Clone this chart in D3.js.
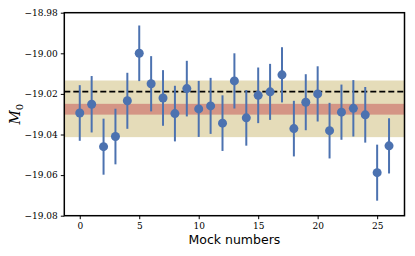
<!DOCTYPE html>
<html>
<head>
<meta charset="utf-8">
<script src="https://cdn.jsdelivr.net/npm/d3@7"></script>
<style>
  body { margin: 0; background: #fff; }
  svg { display: block; }
  .tick text { font-family: "DejaVu Serif", serif; font-size: 9px; fill: #000; }
</style>
</head>
<body>
<div id="graphDiv"></div>
<script>
// mock index and measured M0 with its error bar
const mocks = d3.range(27);
const m0 = [-19.0294, -19.0251, -19.0460, -19.0410, -19.0234, -19.0000, -19.0150, -19.0220, -19.0297,
            -19.0174, -19.0274, -19.0259, -19.0344, -19.0136, -19.0318, -19.0207, -19.0190, -19.0106,
            -19.0371, -19.0241, -19.0200, -19.0381, -19.0290, -19.0271, -19.0303, -19.0588, -19.0456];
const m0Err = [0.0137, 0.0139, 0.0138, 0.0137, 0.0138, 0.0137, 0.0136, 0.0137, 0.0137,
               0.0137, 0.0138, 0.0138, 0.0137, 0.0136, 0.0137, 0.0137, 0.0138, 0.0136,
               0.0137, 0.0138, 0.0136, 0.0137, 0.0136, 0.0139, 0.0137, 0.0138, 0.0136];

// reference value (dashed) and the two bands
const refLine = -19.0189;
const innerBand = [-19.0302, -19.0249];
const outerBand = [-19.0413, -19.0134];

const yTicks = [-19.08, -19.06, -19.04, -19.02, -19.00, -18.98];
const xTicks = [0, 5, 10, 15, 20, 25];

const W = 415, H = 256;
const margin = {top: 12.7, right: 10.5, bottom: 40.3, left: 64.3};
const width = W - margin.left - margin.right;
const height = H - margin.top - margin.bottom;

const svg = d3.select("#graphDiv").append("svg")
    .attr("width", W)
    .attr("height", H);
const g = svg.append("g")
    .attr("transform", `translate(${margin.left},${margin.top})`);

const x = d3.scaleLinear().domain([-1.3, 27.3]).range([0, width]);
const y = d3.scaleLinear().domain([-19.08, -18.98]).range([height, 0]);

//bands
g.append("rect")
    .attr("x", 0).attr("width", width)
    .attr("y", y(outerBand[1]))
    .attr("height", y(outerBand[0]) - y(outerBand[1]))
    .attr("fill", "#ccb974").attr("fill-opacity", 0.5);
g.append("rect")
    .attr("x", 0).attr("width", width)
    .attr("y", y(innerBand[1]))
    .attr("height", y(innerBand[0]) - y(innerBand[1]))
    .attr("fill", "#c44e52").attr("fill-opacity", 0.5);

//dashed reference
g.append("line")
    .attr("x1", 0).attr("x2", width)
    .attr("y1", y(refLine)).attr("y2", y(refLine))
    .attr("stroke", "#000").attr("stroke-width", 1.8)
    .attr("stroke-dasharray", "6,3");

//error bars
g.append("g").selectAll("line")
    .data(mocks)
    .join("line")
    .attr("x1", i => x(i)).attr("x2", i => x(i))
    .attr("y1", i => y(m0[i] - m0Err[i]))
    .attr("y2", i => y(m0[i] + m0Err[i]))
    .attr("stroke", "#4c72b0").attr("stroke-width", 2);

//points
g.append("g").selectAll("circle")
    .data(mocks)
    .join("circle")
    .attr("cx", i => x(i))
    .attr("cy", i => y(m0[i]))
    .attr("r", 4.5)
    .attr("fill", "#4c72b0");

//axes
const xAxis = g.append("g")
    .attr("transform", `translate(0,${height})`)
    .call(d3.axisBottom(x).tickValues(xTicks).tickFormat(d3.format("d")).tickSize(3.5).tickPadding(3));
const yAxis = g.append("g")
    .call(d3.axisLeft(y).tickValues(yTicks).tickFormat(d3.format(".2f")).tickSize(3.5).tickPadding(3));
[xAxis, yAxis].forEach(a => {
    a.select(".domain").remove();
    a.selectAll(".tick line").attr("stroke", "#000").attr("stroke-width", 1);
});

//frame
g.append("rect")
    .attr("width", width).attr("height", height)
    .attr("fill", "none").attr("stroke", "#000").attr("stroke-width", 1.5);

//labels
svg.append("text")
    .attr("x", margin.left + width / 2)
    .attr("y", 244)
    .attr("text-anchor", "middle")
    .style("font-family", "DejaVu Sans, sans-serif")
    .style("font-size", "12.5px")
    .text("Mock numbers");

const yl = svg.append("text")
    .attr("transform", `translate(20,${margin.top + height / 2}) rotate(-90)`)
    .attr("text-anchor", "middle")
    .style("font-family", "DejaVu Serif, serif")
    .style("font-size", "14px");
yl.append("tspan").style("font-style", "italic").text("M");
yl.append("tspan").attr("dy", 3).style("font-size", "10px").text("0");
</script>
</body>
</html>
